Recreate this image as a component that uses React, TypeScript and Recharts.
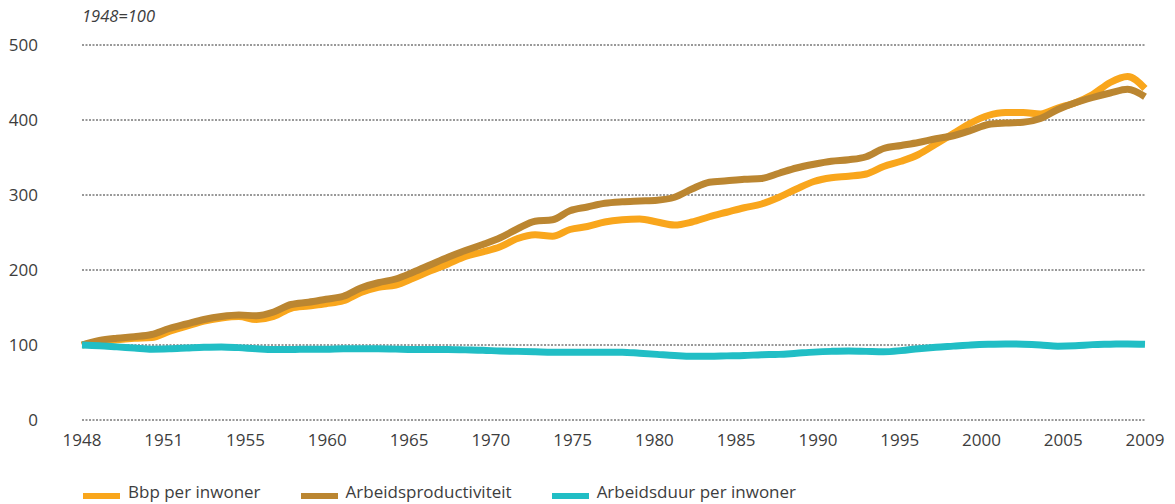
import { CartesianGrid, Line, LineChart, XAxis, YAxis } from "recharts";

const orange = "#f9a61c";
const brown = "#bb8631";
const teal = "#21bec5";
const textColor = "#3d3d3d";
const font = "'Open Sans', sans-serif";

// one point per year, 1948..2009
const years = Array.from({ length: 62 }, (_, i) => 1948 + i);

const bbpPerInwoner = [
  100, 104, 107, 109, 110, 118, 125, 132, 136, 138,
  134, 138, 149, 152, 155, 159, 170, 177, 180, 189,
  199, 208, 218, 224, 231, 242, 247, 245, 254, 258,
  264, 267, 268, 264, 260, 264, 271, 277, 283, 288,
  297, 308, 318, 323, 325, 328, 338, 345, 354, 368,
  382, 396, 406, 410, 410, 408, 416, 423, 434, 450,
  458, 442,
];

const arbeidsproductiviteit = [
  100, 106, 109, 111, 114, 122, 128, 134, 138, 140,
  139, 144, 154, 157, 161, 165, 176, 183, 188, 197,
  207, 217, 226, 234, 243, 255, 265, 267, 279, 284,
  289, 291, 292, 293, 297, 308, 317, 319, 321, 322,
  329, 336, 341, 345, 347, 351, 362, 366, 370, 375,
  379, 386, 394, 396, 397, 402, 414, 423, 430, 436,
  441, 431,
];

const arbeidsduurPerInwoner = [
  100, 99, 97.5, 96, 94.5, 95, 96, 97, 97.5, 96.5,
  95, 94, 94, 94.5, 94.5, 95, 95, 95, 94.5, 94,
  94, 94, 93.5, 93, 92, 91.5, 91, 90.5, 90.5, 90.5,
  90.5, 90.5, 89, 87.5, 86, 85, 85, 85.5, 86, 87,
  87.5, 89, 90.5, 91.5, 92, 91.5, 91, 92.5, 95, 97,
  98.5, 100, 101, 101.5, 101, 100, 98.5, 99, 100.5, 101,
  101.5, 101,
];

// labels sit evenly spaced along the axis in the original
const xTickLabels = [
  "1948", "1951", "1955", "1960", "1965", "1970", "1975",
  "1980", "1985", "1990", "1995", "2000", "2005", "2009",
];
const yTicks = [0, 100, 200, 300, 400, 500];

const series = [
  { key: "bbp", name: "Bbp per inwoner", color: orange },
  { key: "prod", name: "Arbeidsproductiviteit", color: brown },
  { key: "duur", name: "Arbeidsduur per inwoner", color: teal },
];

const rows = years.map((year, i) => ({
  year,
  bbp: bbpPerInwoner[i],
  prod: arbeidsproductiviteit[i],
  duur: arbeidsduurPerInwoner[i],
}));

const firstYear = years[0];
const lastYear = years[years.length - 1];
const xTicks = xTickLabels.map(
  (_, i) => firstYear + (i * (lastYear - firstYear)) / (xTickLabels.length - 1)
);

export default function App() {
  return (
    <div style={{ position: "absolute", left: 0, top: 0, width: 1175, height: 504, fontFamily: font }}>
      <div
        style={{
          position: "absolute",
          left: 82,
          top: 6,
          fontSize: 16.5,
          lineHeight: "19px",
          fontStyle: "italic",
          color: textColor,
        }}
      >
        1948=100
      </div>

      <LineChart width={1175} height={460} data={rows} margin={{ top: 45, right: 30, bottom: 0, left: 0 }}>
        <CartesianGrid vertical={false} stroke="#333" strokeDasharray="2 1.5" />
        <XAxis
          dataKey="year"
          type="number"
          domain={[firstYear, lastYear]}
          ticks={xTicks}
          interval={0}
          tickFormatter={(_v: number, i: number) => xTickLabels[i]}
          axisLine={false}
          tickLine={false}
          tickSize={0}
          tickMargin={14}
          height={40}
          tick={{ fill: textColor, fontSize: 17, fontFamily: font }}
        />
        <YAxis
          domain={[0, 500]}
          ticks={yTicks}
          axisLine={false}
          tickLine={false}
          tickSize={0}
          tickMargin={44}
          width={82}
          tick={{ fill: textColor, fontSize: 17, fontFamily: font }}
        />
        {series.map((s) => (
          <Line
            key={s.key}
            dataKey={s.key}
            name={s.name}
            type="monotone"
            stroke={s.color}
            strokeWidth={7}
            dot={false}
            activeDot={false}
            isAnimationActive={false}
          />
        ))}
      </LineChart>

      <div
        style={{
          position: "absolute",
          left: 83,
          top: 482,
          display: "flex",
          gap: 40,
          fontSize: 17,
          lineHeight: "20px",
          color: textColor,
        }}
      >
        {series.map((s) => (
          <div key={s.key} style={{ display: "flex", alignItems: "flex-start" }}>
            <span style={{ width: 37, height: 6, marginTop: 11, marginRight: 8, background: s.color }} />
            <span>{s.name}</span>
          </div>
        ))}
      </div>
    </div>
  );
}
